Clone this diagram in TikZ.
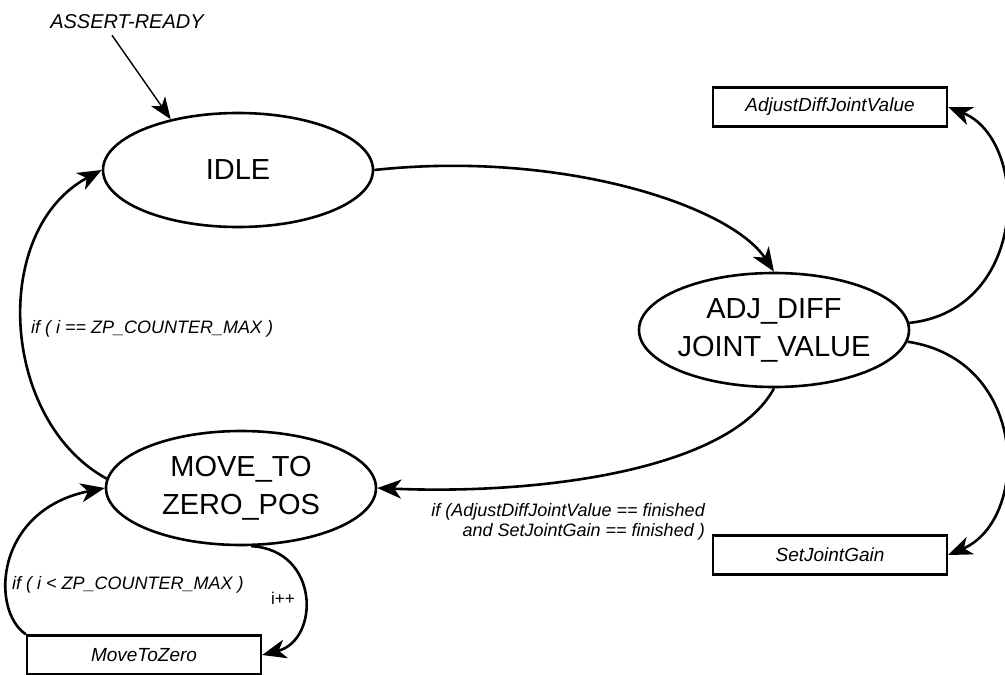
\documentclass[tikz,border=0pt]{standalone}
\usepackage{fontspec}
\setmainfont{Liberation Sans}
\usetikzlibrary{shapes.geometric,arrows.meta}

\begin{document}
\begin{tikzpicture}[x=1pt,y=-1pt,
	state/.style={draw,ellipse,line width=2.6pt,minimum width=270pt,minimum height=114pt,inner xsep=-6pt,align=center,font=\fontsize{29}{38}\selectfont},
	action/.style={draw,rectangle,line width=2.4pt,minimum width=234pt,minimum height=39pt,font=\fontsize{19}{22}\selectfont\itshape},
	cond/.style={inner sep=0pt,font=\fontsize{18}{20}\selectfont\itshape},
	trans/.style={line width=2.6pt,-{Stealth[length=24pt,width=19pt,inset=7pt]}}]
		\useasboundingbox (0,0) rectangle (1005,675);
		
		% Nodes
		\node[state] (idle) at (238,170) {IDLE};
		\node[state] (adj) at (774,330) {ADJ\_DIFF\\JOINT\_VALUE};
		\node[state] (move) at (241,488) {MOVE\_TO\\ZERO\_POS};
		\node[action] (adjust) at (830,107) {AdjustDiffJointValue};
		\node[action] (gain) at (830,555) {SetJointGain};
		\node[action] (zero) at (144,655) {MoveToZero};
		
		% Labels
		\node[cond,font=\fontsize{20}{24}\selectfont\itshape] (assert) at (127,22) {ASSERT-READY};
		\node[cond,anchor=west] (eqmax) at (31,329) {if ( i == ZP\_COUNTER\_MAX )};
		\node[cond,anchor=west] (ltmax) at (12,585) {if ( i < ZP\_COUNTER\_MAX )};
		\node[inner sep=0pt,font=\fontsize{17}{20}\selectfont] (inc) at (283,598) {i++};
		\node[cond,align=right,anchor=north east] (done) at (705,503) {if (AdjustDiffJointValue == finished\\and SetJointGain == finished )};
		
		% Edges
		\draw[line width=1.4pt,-{Stealth[length=22pt,width=17pt,inset=6pt]}] ([xshift=-15pt,yshift=-6pt]assert.south) -- (idle.143);
		\draw[trans] (idle.east) .. controls (560,150) and (730,205) .. (adj.north);
		\draw[trans] (adj.3) .. controls (1030,310) and (1030,140) .. (adjust.east);
		\draw[trans] (adj.-5) .. controls (1030,360) and (1030,520) .. (gain.east);
		\draw[trans] (adj.south) .. controls (730,470) and (540,495) .. (move.east);
		\draw[trans] (move.176) .. controls (0,420) and (-10,230) .. (idle.west);
		\draw[trans] (move.-80) .. controls (320,550) and (320,640) .. (zero.east);
		\draw[trans] (zero.north west) .. controls (-10,610) and (-5,510) .. (move.west);
		
	\end{tikzpicture}
\end{document}
